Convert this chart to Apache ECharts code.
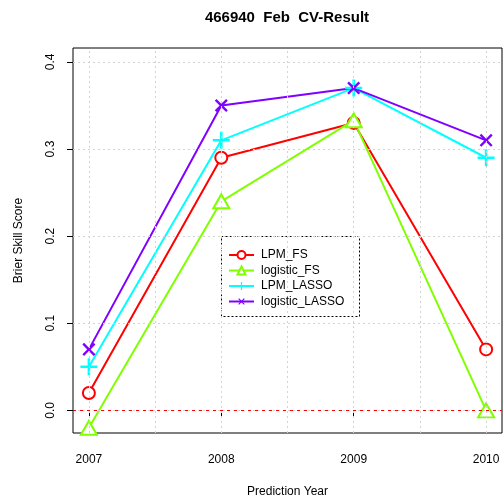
<!DOCTYPE html>
<html>
<head>
<meta charset="utf-8">
<script src="https://cdn.jsdelivr.net/npm/echarts@6/dist/echarts.min.js"></script>
<style>
  html, body { margin: 0; padding: 0; background: #fff; }
  #chart { width: 504px; height: 497px; }
</style>
</head>
<body>
<div id="chart"></div>
<script>
// values
var years = [2007, 2008, 2009, 2010];
var lpmFS = [0.02, 0.29, 0.33, 0.07];
var logisticFS = [-0.02, 0.24, 0.333, 0.0];
var lpmLASSO = [0.05, 0.31, 0.37, 0.29];
var logisticLASSO = [0.07, 0.35, 0.37, 0.31];
var yTicks = [0, 0.1, 0.2, 0.3, 0.4];
var xGrid = [2007, 2007.5, 2008, 2008.5, 2009, 2009.5, 2010];

var font = "'Liberation Sans', Arial, sans-serif";
var plusPath = "path://M8.5,0 L11.5,0 L11.5,8.5 L20,8.5 L20,11.5 L11.5,11.5 L11.5,20 L8.5,20 L8.5,11.5 L0,11.5 L0,8.5 L8.5,8.5 Z";

function pairs(vals) {
  return years.map(function (y, i) { return [y, vals[i]]; });
}

var chart = echarts.init(document.getElementById("chart"));

var gridLines = [];
xGrid.forEach(function (x) { gridLines.push({ xAxis: x }); });
yTicks.forEach(function (y) { gridLines.push({ yAxis: y }); });
// dashed reference line at zero
gridLines.push({ yAxis: 0, lineStyle: { color: "#ff0000", type: [3, 4], width: 1 } });

chart.setOption({
  animation: false,
  textStyle: { fontFamily: font },
  graphic: [
    {
      type: "text",
      x: 287, y: 10,
      style: {
        text: "466940  Feb  CV-Result",
        font: "bold 15px " + font,
        fill: "#000",
        textAlign: "center"
      }
    },
    {
      type: "rect",
      z: 5,
      shape: { x: 221.5, y: 236.5, width: 138, height: 80 },
      style: { fill: "#fff", stroke: "#000", lineWidth: 1, lineDash: [2, 2] }
    }
  ],
  grid: {
    left: 73, top: 48, right: 2, bottom: 64,
    outerBoundsMode: "none",
    containLabel: false,
    show: true, borderColor: "#000", borderWidth: 1
  },
  legend: {
    left: 223, top: 244, orient: "vertical",
    itemWidth: 25, itemHeight: 10, itemGap: 3.5,
    z: 6,
    textStyle: { fontSize: 12, color: "#000", padding: [0, 0, 0, 2] },
    data: ["LPM_FS", "logistic_FS", "LPM_LASSO", "logistic_LASSO"]
  },
  xAxis: {
    type: "value",
    min: 2006.88, max: 2010.12,
    name: "Prediction Year",
    nameLocation: "middle",
    nameGap: 53,
    nameTextStyle: { fontSize: 12, color: "#000" },
    axisLine: { show: false },
    splitLine: { show: false },
    axisTick: { show: true, length: 6, customValues: years, lineStyle: { color: "#000" } },
    axisLabel: { customValues: years, margin: 21, fontSize: 12, color: "#000", formatter: function (v) { return String(v); } }
  },
  yAxis: {
    type: "value",
    min: -0.026, max: 0.416,
    name: "Brier Skill Score",
    nameLocation: "middle",
    nameGap: 48,
    nameTextStyle: { fontSize: 12, color: "#000" },
    axisLine: { show: false },
    splitLine: { show: false },
    axisTick: { show: true, length: 6, customValues: yTicks, lineStyle: { color: "#000" } },
    axisLabel: {
      customValues: yTicks, rotate: 90, margin: 16, fontSize: 12, color: "#000",
      formatter: function (v) { return v.toFixed(1); }
    }
  },
  series: [
    {
      name: "grid",
      type: "line",
      data: [],
      silent: true,
      markLine: {
        silent: true,
        symbol: "none",
        label: { show: false },
        lineStyle: { color: "#d3d3d3", type: [2, 3], width: 1 },
        data: gridLines
      }
    },
    {
      name: "LPM_FS",
      type: "line",
      data: pairs(lpmFS),
      symbol: "emptyCircle",
      symbolSize: 12,
      color: "#ff0000",
      lineStyle: { width: 2, color: "#ff0000" },
      itemStyle: { color: "#ff0000", borderWidth: 2 }
    },
    {
      name: "logistic_FS",
      type: "line",
      data: pairs(logisticFS),
      symbol: "emptyTriangle",
      symbolSize: [16, 14],
      color: "#80ff00",
      lineStyle: { width: 2, color: "#80ff00" },
      itemStyle: { color: "#80ff00", borderWidth: 2 }
    },
    {
      name: "LPM_LASSO",
      type: "line",
      data: pairs(lpmLASSO),
      symbol: plusPath,
      symbolSize: 17,
      color: "#00ffff",
      lineStyle: { width: 2, color: "#00ffff" },
      itemStyle: { color: "#00ffff" }
    },
    {
      name: "logistic_LASSO",
      type: "line",
      data: pairs(logisticLASSO),
      symbol: plusPath,
      symbolSize: 16,
      symbolRotate: 45,
      color: "#8000ff",
      lineStyle: { width: 2, color: "#8000ff" },
      itemStyle: { color: "#8000ff" }
    }
  ]
});
</script>
</body>
</html>
